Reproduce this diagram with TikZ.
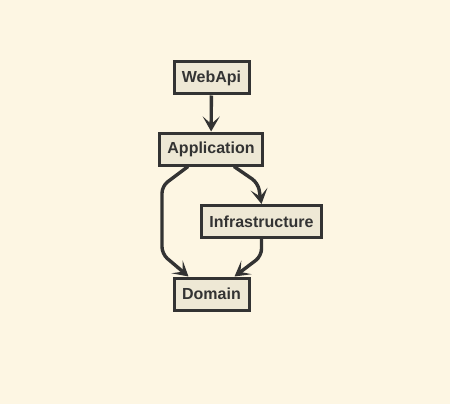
\documentclass[tikz,border=0pt]{standalone}
\usepackage{fontspec}
\setmainfont{Liberation Sans}
\usetikzlibrary{arrows.meta,calc}
\definecolor{bg}{HTML}{FDF6E3}
\definecolor{boxfill}{HTML}{EEE8D5}
\definecolor{ink}{HTML}{333333}
\begin{document}
\begin{tikzpicture}[x=1pt,y=-1pt,
  box/.style={draw=ink,fill=boxfill,line width=3pt,minimum height=32pt,minimum width=75pt,inner xsep=7.5pt,
    font=\fontsize{16}{19}\selectfont\bfseries,text=ink},
  edge/.style={draw=ink,line width=3.4pt,rounded corners=7pt,
    -{Stealth[length=15pt,width=17pt,inset=7.5pt]}}]
\fill[bg] (0,0) rectangle (450,404);
\useasboundingbox (0,0) rectangle (450,404);
\node[box] (web) at (211.5,78) {WebApi};
\node[box] (app) at (211,149) {Application};
\node[box] (inf) at (261.5,221.5) {Infrastructure};
\node[box] (dom) at (211.5,294) {Domain};
\draw[edge] (web) -- (app);
\draw[edge] ($(app.south)+(23,0)$) -- (258,183) -- (inf.north);
\draw[edge] ($(app.south)+(-23,0)$) -- (162,186) -- (162,254) -- ($(dom.north)+(-23,0)$);
\draw[edge] (inf.south) -- (261.5,256) -- ($(dom.north)+(23,0)$);
\end{tikzpicture}
\end{document}
